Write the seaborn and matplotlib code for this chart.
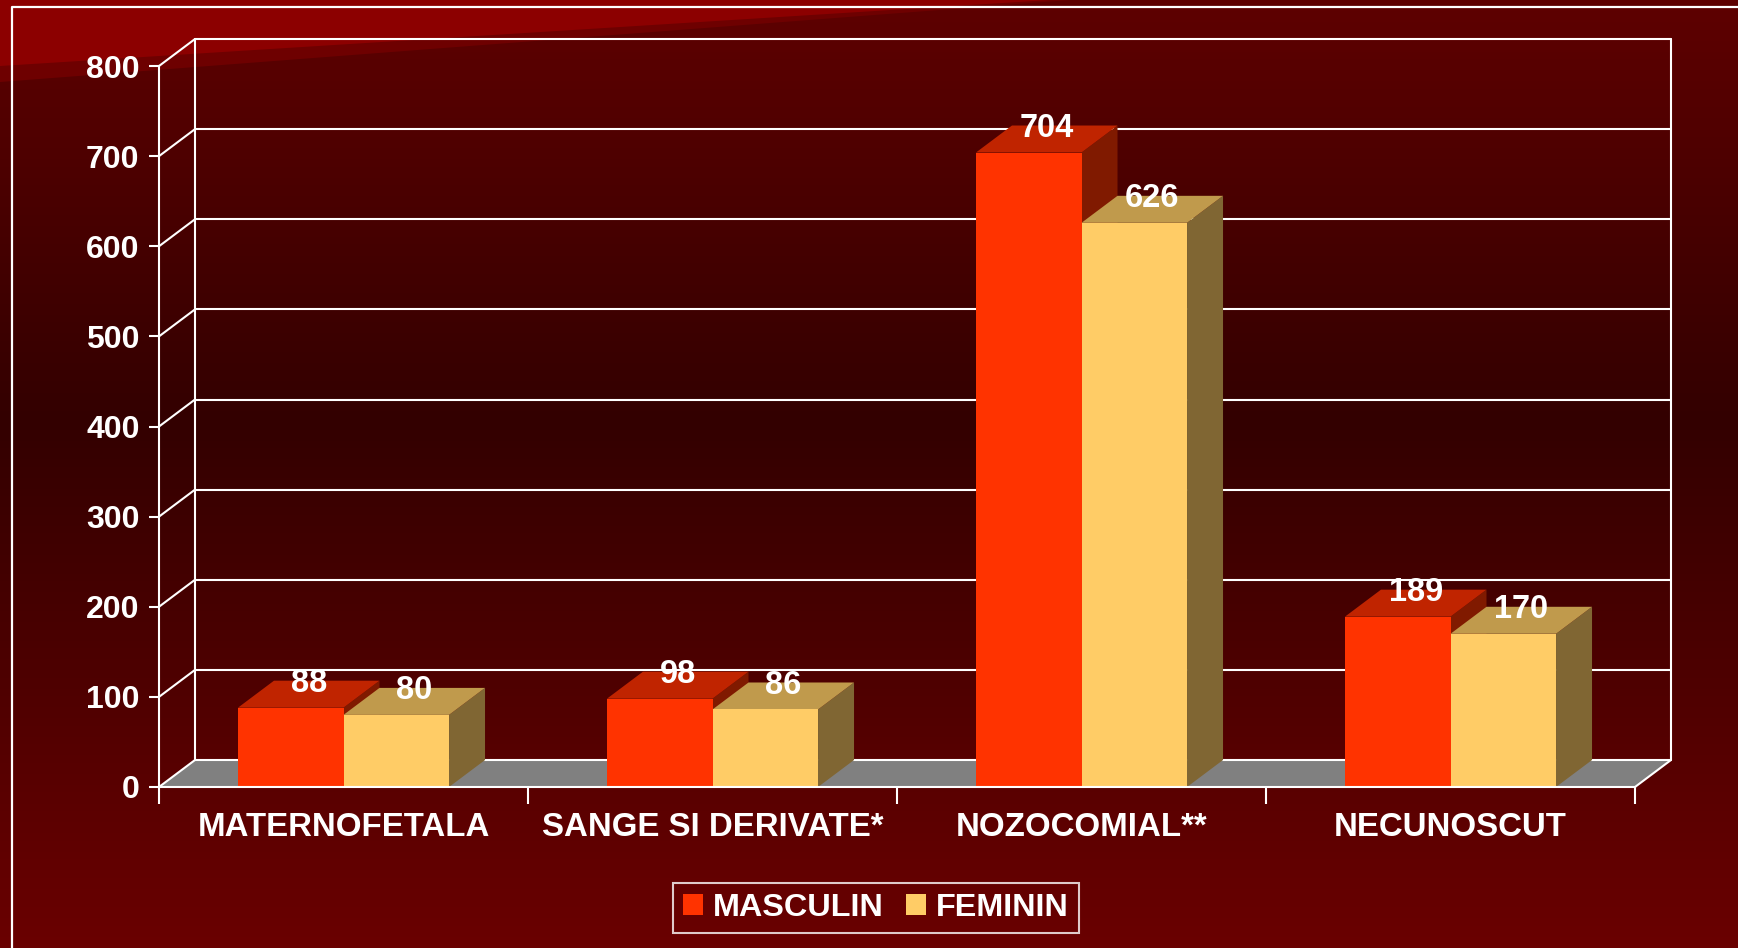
import matplotlib
matplotlib.use("Agg")
import matplotlib.pyplot as plt
from matplotlib.patches import Polygon, Patch, Rectangle
from matplotlib.lines import Line2D
import matplotlib.colors as mcolors
import numpy as np
import pandas as pd
import seaborn as sns

# data
categories = ["MATERNOFETALA", "SANGE SI DERIVATE*", "NOZOCOMIAL**", "NECUNOSCUT"]
masculin = [88, 98, 704, 189]
feminin = [80, 86, 626, 170]
series_names = ["MASCULIN", "FEMININ"]
y_ticks = [0, 100, 200, 300, 400, 500, 600, 700, 800]

# colours: front, top, side
front_cols = {"MASCULIN": "#FF3300", "FEMININ": "#FFCC66"}
top_cols = {"MASCULIN": "#C02400", "FEMININ": "#C09A4C"}
side_cols = {"MASCULIN": "#801A00", "FEMININ": "#806633"}

df = pd.DataFrame({
    "cat": categories * 2,
    "val": masculin + feminin,
    "sex": [series_names[0]] * 4 + [series_names[1]] * 4,
})

sns.set_style("white")
plt.rcParams["font.family"] = ["Liberation Sans", "DejaVu Sans"]
plt.rcParams["font.weight"] = "bold"

W, H = 1738, 948
fig = plt.figure(figsize=(W / 100, H / 100), dpi=100)

# ---- background -------------------------------------------------------
bg = fig.add_axes([0, 0, 1, 1])
bg.set_xlim(0, W)
bg.set_ylim(H, 0)
bg.axis("off")
cmap = mcolors.LinearSegmentedColormap.from_list(
    "bgred", [(0, "#5e0000"), (420 / H, "#330000"), (1, "#6a0000")])
grad = np.linspace(0, 1, 256).reshape(-1, 1)
bg.imshow(grad, cmap=cmap, aspect="auto", extent=[0, W, H, 0], zorder=0)
bg.add_patch(Polygon([(0, 0), (1070, 0), (0, 82)], closed=True, color="#6e0000", lw=0, zorder=1))
bg.add_patch(Polygon([(0, 0), (1050, 0), (0, 66)], closed=True, color="#8c0000", lw=0, zorder=2))
bg.add_line(Line2D([12, 12, W + 5], [H + 5, 7, 7], color="white", lw=1.6, zorder=3))

# ---- main axes (front plane) -----------------------------------------
x0, x1, y0, y1 = 159, 1635, 787, 66
ax = fig.add_axes([x0 / W, 1 - y0 / H, (x1 - x0) / W, (y0 - y1) / H])
ax.patch.set_visible(False)

sns.barplot(data=df, x="cat", y="val", hue="sex", hue_order=series_names,
            palette=[front_cols[s] for s in series_names], width=0.572, gap=0,
            linewidth=0, saturation=1, legend=False, ax=ax)
bars = sorted([p for p in ax.patches if isinstance(p, Rectangle) and p.get_height() > 0],
              key=lambda p: p.get_x())
ax.set_xlim(-0.5, len(categories) - 0.5)
ax.set_ylim(0, 800)
ax.set_xlabel("")
ax.set_ylabel("")

# depth offset in data units
p0 = ax.transData.transform((0, 0))
p1 = ax.transData.inverted().transform(p0 + np.array([36, 27]))
ddx, ddy = p1[0], p1[1]

wl = "white"
lw = 1.5
xl, xr = -0.5, len(categories) - 0.5
# floor
ax.add_patch(Polygon([(xl, 0), (xr, 0), (xr + ddx, ddy), (xl + ddx, ddy)],
                     closed=True, color="#808080", lw=0, zorder=1, clip_on=False))
# back wall grid + left wall diagonals
for t in y_ticks:
    ax.plot([xl + ddx, xr + ddx], [t + ddy, t + ddy], color=wl, lw=lw, zorder=1.5, clip_on=False)
    ax.plot([xl, xl + ddx], [t, t + ddy], color=wl, lw=lw, zorder=1.5, clip_on=False)
ax.plot([xl + ddx, xl + ddx], [ddy, 800 + ddy], color=wl, lw=lw, zorder=1.5, clip_on=False)
ax.plot([xr + ddx, xr + ddx], [ddy, 800 + ddy], color=wl, lw=lw, zorder=1.5, clip_on=False)
ax.plot([xr, xr + ddx], [0, ddy], color=wl, lw=lw, zorder=1.5, clip_on=False)

# 3d faces for bars
z = 3
for p in bars:
    fc = mcolors.to_hex(p.get_facecolor()).upper()
    sex = [s for s in series_names if front_cols[s].upper() == fc][0]
    bx, bw, bh = p.get_x(), p.get_width(), p.get_height()
    side = Polygon([(bx + bw, 0), (bx + bw, bh), (bx + bw + ddx, bh + ddy), (bx + bw + ddx, ddy)],
                   closed=True, color=side_cols[sex], lw=0, zorder=z, clip_on=False)
    top = Polygon([(bx, bh), (bx + bw, bh), (bx + bw + ddx, bh + ddy), (bx + ddx, bh + ddy)],
                  closed=True, color=top_cols[sex], lw=0, zorder=z + 1, clip_on=False)
    ax.add_patch(side)
    ax.add_patch(top)
    p.set_zorder(z + 2)
    p.set_clip_on(False)
    ax.annotate(f"{bh:.0f}", (bx + bw / 2 + ddx / 2, bh + ddy), xytext=(0, -2),
                textcoords="offset points", color="white", fontsize=23.5,
                fontweight="bold", ha="center", va="center", zorder=50,
                annotation_clip=False)
    z += 3

# spines
for s in ["top", "right"]:
    ax.spines[s].set_visible(False)
for s in ["left", "bottom"]:
    ax.spines[s].set_color(wl)
    ax.spines[s].set_linewidth(lw)
    ax.spines[s].set_zorder(40)

ax.set_yticks(y_ticks)
ax.tick_params(axis="y", colors="white", length=7, width=lw, labelsize=23, pad=7, left=True)
ax.set_xticks(range(len(categories)))
ax.set_xticklabels(categories)
ax.tick_params(axis="x", which="major", colors="white", length=0, labelsize=23.8, pad=18)
ax.set_xticks(np.arange(-0.5, len(categories), 1.0), minor=True)
ax.tick_params(axis="x", which="minor", colors="white", length=12, width=lw, bottom=True)
for lab in ax.get_xticklabels() + ax.get_yticklabels():
    lab.set_fontweight("bold")

# legend
handles = [Patch(facecolor=front_cols[s], edgecolor="none", label=s) for s in series_names]
leg = ax.legend(handles=handles, ncol=2, loc="center",
                bbox_to_anchor=(876 / W, 1 - 908 / H), bbox_transform=fig.transFigure,
                frameon=True, fancybox=False, facecolor="none", edgecolor="white",
                prop={"size": 23.3, "weight": "bold"}, handlelength=0.62, handleheight=0.62,
                handletextpad=0.3, columnspacing=0.7, borderpad=0.3, borderaxespad=0)
leg.get_frame().set_linewidth(1.5)
for t in leg.get_texts():
    t.set_color("white")

fig.savefig("out.png", dpi=100)
